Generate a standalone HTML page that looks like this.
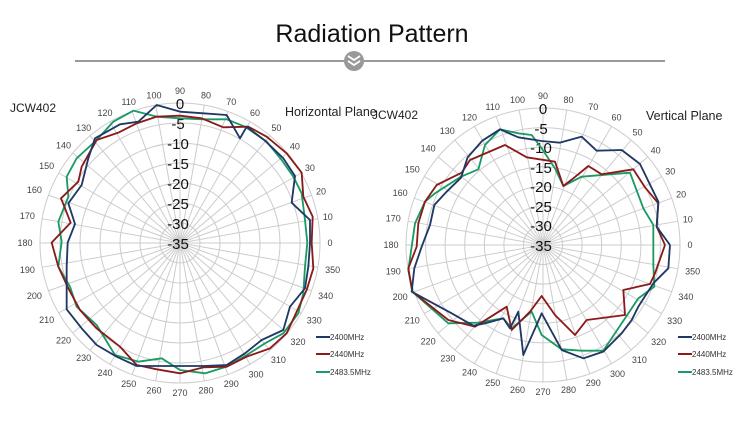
<!DOCTYPE html>
<html><head><meta charset="utf-8"><style>
html,body{margin:0;padding:0;background:#fff;}
svg{display:block;font-family:"Liberation Sans",sans-serif;}
</style></head><body>
<svg width="750" height="436" viewBox="0 0 750 436" xmlns="http://www.w3.org/2000/svg">
<rect width="750" height="436" fill="#fff"/>
<text x="372" y="42" font-size="25" text-anchor="middle" fill="#111">Radiation Pattern</text>
<line x1="75" y1="61" x2="665" y2="61" stroke="#999" stroke-width="2"/>
<circle cx="354" cy="61" r="10" fill="#999"/>
<path d="M348 56 l6 4 l6 -4 M348 61 l6 4 l6 -4" stroke="#fff" stroke-width="1.8" fill="none"/>

<!-- LEFT -->
<g transform="translate(180,243)">
<g fill="none" stroke="#ccc" stroke-width="1">
<circle r="140"/><circle r="120"/><circle r="100"/><circle r="80"/><circle r="60"/><circle r="40"/><circle r="20"/>
<g id="sp"><line x1="-140" y1="0" x2="140" y2="0"/>
<line x1="-140" y1="0" x2="140" y2="0" transform="rotate(10)"/><line x1="-140" y1="0" x2="140" y2="0" transform="rotate(20)"/><line x1="-140" y1="0" x2="140" y2="0" transform="rotate(30)"/><line x1="-140" y1="0" x2="140" y2="0" transform="rotate(40)"/><line x1="-140" y1="0" x2="140" y2="0" transform="rotate(50)"/><line x1="-140" y1="0" x2="140" y2="0" transform="rotate(60)"/><line x1="-140" y1="0" x2="140" y2="0" transform="rotate(70)"/><line x1="-140" y1="0" x2="140" y2="0" transform="rotate(80)"/><line x1="-140" y1="0" x2="140" y2="0" transform="rotate(90)"/><line x1="-140" y1="0" x2="140" y2="0" transform="rotate(100)"/><line x1="-140" y1="0" x2="140" y2="0" transform="rotate(110)"/><line x1="-140" y1="0" x2="140" y2="0" transform="rotate(120)"/><line x1="-140" y1="0" x2="140" y2="0" transform="rotate(130)"/><line x1="-140" y1="0" x2="140" y2="0" transform="rotate(140)"/><line x1="-140" y1="0" x2="140" y2="0" transform="rotate(150)"/><line x1="-140" y1="0" x2="140" y2="0" transform="rotate(160)"/><line x1="-140" y1="0" x2="140" y2="0" transform="rotate(170)"/></g>
</g>
<g font-size="9" fill="#444" text-anchor="middle">
<g transform="rotate(0)"><text transform="translate(150,3)">0</text></g>
<g transform="rotate(-10)"><text transform="translate(150,0) rotate(10) translate(0,3)">10</text></g>
<g transform="rotate(-20)"><text transform="translate(150,0) rotate(20) translate(0,3)">20</text></g>
<g transform="rotate(-30)"><text transform="translate(150,0) rotate(30) translate(0,3)">30</text></g>
<g transform="rotate(-40)"><text transform="translate(150,0) rotate(40) translate(0,3)">40</text></g>
<g transform="rotate(-50)"><text transform="translate(150,0) rotate(50) translate(0,3)">50</text></g>
<g transform="rotate(-60)"><text transform="translate(150,0) rotate(60) translate(0,3)">60</text></g>
<g transform="rotate(-70)"><text transform="translate(150,0) rotate(70) translate(0,3)">70</text></g>
<g transform="rotate(-80)"><text transform="translate(150,0) rotate(80) translate(0,3)">80</text></g>
<g transform="rotate(-90)"><text transform="translate(152,0) rotate(90) translate(0,3)">90</text></g>
<g transform="rotate(-100)"><text transform="translate(150,0) rotate(100) translate(0,3)">100</text></g>
<g transform="rotate(-110)"><text transform="translate(150,0) rotate(110) translate(0,3)">110</text></g>
<g transform="rotate(-120)"><text transform="translate(150,0) rotate(120) translate(0,3)">120</text></g>
<g transform="rotate(-130)"><text transform="translate(150,0) rotate(130) translate(0,3)">130</text></g>
<g transform="rotate(-140)"><text transform="translate(152,0) rotate(140) translate(0,3)">140</text></g>
<g transform="rotate(-150)"><text transform="translate(154,0) rotate(150) translate(0,3)">150</text></g>
<g transform="rotate(-160)"><text transform="translate(155,0) rotate(160) translate(0,3)">160</text></g>
<g transform="rotate(-170)"><text transform="translate(155,0) rotate(170) translate(0,3)">170</text></g>
<g transform="rotate(-180)"><text transform="translate(155,0) rotate(180) translate(0,3)">180</text></g>
<g transform="rotate(-190)"><text transform="translate(155,0) rotate(190) translate(0,3)">190</text></g>
<g transform="rotate(-200)"><text transform="translate(155,0) rotate(200) translate(0,3)">200</text></g>
<g transform="rotate(-210)"><text transform="translate(154,0) rotate(210) translate(0,3)">210</text></g>
<g transform="rotate(-220)"><text transform="translate(152,0) rotate(220) translate(0,3)">220</text></g>
<g transform="rotate(-230)"><text transform="translate(150,0) rotate(230) translate(0,3)">230</text></g>
<g transform="rotate(-240)"><text transform="translate(150,0) rotate(240) translate(0,3)">240</text></g>
<g transform="rotate(-250)"><text transform="translate(150,0) rotate(250) translate(0,3)">250</text></g>
<g transform="rotate(-260)"><text transform="translate(150,0) rotate(260) translate(0,3)">260</text></g>
<g transform="rotate(-270)"><text transform="translate(150,0) rotate(270) translate(0,3)">270</text></g>
<g transform="rotate(-280)"><text transform="translate(150,0) rotate(280) translate(0,3)">280</text></g>
<g transform="rotate(-290)"><text transform="translate(150,0) rotate(290) translate(0,3)">290</text></g>
<g transform="rotate(-300)"><text transform="translate(152,0) rotate(300) translate(0,3)">300</text></g>
<g transform="rotate(-310)"><text transform="translate(153,0) rotate(310) translate(0,3)">310</text></g>
<g transform="rotate(-320)"><text transform="translate(154,0) rotate(320) translate(0,3)">320</text></g>
<g transform="rotate(-330)"><text transform="translate(155,0) rotate(330) translate(0,3)">330</text></g>
<g transform="rotate(-340)"><text transform="translate(155,0) rotate(340) translate(0,3)">340</text></g>
<g transform="rotate(-350)"><text transform="translate(155,0) rotate(350) translate(0,3)">350</text></g>
</g>
<g font-size="15" fill="#111" text-anchor="middle">
<text x="0" y="-134">0</text><text x="-2" y="-114">-5</text><text x="-2" y="-94">-10</text><text x="-2" y="-74">-15</text><text x="-2" y="-54">-20</text><text x="-2" y="-34">-25</text><text x="-2" y="-14">-30</text><text x="-2" y="6">-35</text>
</g>
</g>
<g transform="translate(0,80) scale(0.33333)" fill="none" stroke-width="5.5" stroke-linejoin="round">
<polyline stroke="#1a9a64" points="922,488 915,420 905,340 880,290 845,240 800,185 735,140 680,118 610,118 540,115 470,110 400,92 340,125 290,180 230,235 200,290 205,350 175,425 185,485 175,560 210,620 230,680 290,735 345,825 415,845 485,835 540,870 615,880 680,860 740,825 795,790 850,760 895,700 910,640 915,560 922,488"/>
<polyline stroke="#8b1a1a" points="935,488 938,410 910,350 905,278 860,220 800,170 745,140 670,142 605,115 540,107 470,110 410,130 355,158 290,180 245,260 235,305 183,355 212,428 155,488 175,560 205,625 240,690 290,745 360,800 410,855 470,868 540,880 610,862 680,860 740,830 810,805 860,760 920,630 940,565 935,488"/>
<polyline stroke="#1f3864" points="930,490 930,420 875,368 885,288 850,235 795,182 740,140 720,175 680,105 610,100 540,95 470,75 415,125 360,133 285,175 265,235 245,315 205,370 225,432 203,488 200,560 200,620 200,688 245,745 290,795 350,830 410,858 475,858 540,858 610,858 680,855 735,820 785,780 850,750 870,680 915,625 925,560 930,490"/>
</g>
<text x="10" y="112" font-size="12" fill="#222">JCW402</text>
<text x="285" y="116" font-size="12.5" fill="#222">Horizontal Plane</text>
<g font-size="8" fill="#333">
<line x1="316" y1="337" x2="330" y2="337" stroke="#1f3864" stroke-width="2"/><text x="330" y="340">2400MHz</text>
<line x1="316" y1="354" x2="330" y2="354" stroke="#8b1a1a" stroke-width="2"/><text x="330" y="357">2440MHz</text>
<line x1="316" y1="372" x2="330" y2="372" stroke="#1a9a64" stroke-width="2"/><text x="330" y="375">2483.5MHz</text>
</g>

<!-- RIGHT -->
<g transform="translate(543,245)">
<g fill="none" stroke="#ccc" stroke-width="1">
<circle r="137"/><circle r="117.4"/><circle r="97.9"/><circle r="78.3"/><circle r="58.7"/><circle r="39.1"/><circle r="19.6"/>
<use href="#sp" transform="scale(0.98)"/>
</g>
<g font-size="9" fill="#444" text-anchor="middle">
<g transform="rotate(0)"><text transform="translate(147,3)">0</text></g>
<g transform="rotate(-10)"><text transform="translate(147,0) rotate(10) translate(0,3)">10</text></g>
<g transform="rotate(-20)"><text transform="translate(147,0) rotate(20) translate(0,3)">20</text></g>
<g transform="rotate(-30)"><text transform="translate(147,0) rotate(30) translate(0,3)">30</text></g>
<g transform="rotate(-40)"><text transform="translate(147,0) rotate(40) translate(0,3)">40</text></g>
<g transform="rotate(-50)"><text transform="translate(147,0) rotate(50) translate(0,3)">50</text></g>
<g transform="rotate(-60)"><text transform="translate(147,0) rotate(60) translate(0,3)">60</text></g>
<g transform="rotate(-70)"><text transform="translate(147,0) rotate(70) translate(0,3)">70</text></g>
<g transform="rotate(-80)"><text transform="translate(147,0) rotate(80) translate(0,3)">80</text></g>
<g transform="rotate(-90)"><text transform="translate(149,0) rotate(90) translate(0,3)">90</text></g>
<g transform="rotate(-100)"><text transform="translate(147,0) rotate(100) translate(0,3)">100</text></g>
<g transform="rotate(-110)"><text transform="translate(147,0) rotate(110) translate(0,3)">110</text></g>
<g transform="rotate(-120)"><text transform="translate(147,0) rotate(120) translate(0,3)">120</text></g>
<g transform="rotate(-130)"><text transform="translate(149,0) rotate(130) translate(0,3)">130</text></g>
<g transform="rotate(-140)"><text transform="translate(150,0) rotate(140) translate(0,3)">140</text></g>
<g transform="rotate(-150)"><text transform="translate(151,0) rotate(150) translate(0,3)">150</text></g>
<g transform="rotate(-160)"><text transform="translate(152,0) rotate(160) translate(0,3)">160</text></g>
<g transform="rotate(-170)"><text transform="translate(152,0) rotate(170) translate(0,3)">170</text></g>
<g transform="rotate(-180)"><text transform="translate(152,0) rotate(180) translate(0,3)">180</text></g>
<g transform="rotate(-190)"><text transform="translate(152,0) rotate(190) translate(0,3)">190</text></g>
<g transform="rotate(-200)"><text transform="translate(152,0) rotate(200) translate(0,3)">200</text></g>
<g transform="rotate(-210)"><text transform="translate(151,0) rotate(210) translate(0,3)">210</text></g>
<g transform="rotate(-220)"><text transform="translate(150,0) rotate(220) translate(0,3)">220</text></g>
<g transform="rotate(-230)"><text transform="translate(148,0) rotate(230) translate(0,3)">230</text></g>
<g transform="rotate(-240)"><text transform="translate(147,0) rotate(240) translate(0,3)">240</text></g>
<g transform="rotate(-250)"><text transform="translate(147,0) rotate(250) translate(0,3)">250</text></g>
<g transform="rotate(-260)"><text transform="translate(147,0) rotate(260) translate(0,3)">260</text></g>
<g transform="rotate(-270)"><text transform="translate(147,0) rotate(270) translate(0,3)">270</text></g>
<g transform="rotate(-280)"><text transform="translate(147,0) rotate(280) translate(0,3)">280</text></g>
<g transform="rotate(-290)"><text transform="translate(147,0) rotate(290) translate(0,3)">290</text></g>
<g transform="rotate(-300)"><text transform="translate(149,0) rotate(300) translate(0,3)">300</text></g>
<g transform="rotate(-310)"><text transform="translate(150,0) rotate(310) translate(0,3)">310</text></g>
<g transform="rotate(-320)"><text transform="translate(151,0) rotate(320) translate(0,3)">320</text></g>
<g transform="rotate(-330)"><text transform="translate(152,0) rotate(330) translate(0,3)">330</text></g>
<g transform="rotate(-340)"><text transform="translate(152,0) rotate(340) translate(0,3)">340</text></g>
<g transform="rotate(-350)"><text transform="translate(152,0) rotate(350) translate(0,3)">350</text></g>
</g>
<g font-size="15" fill="#111" text-anchor="middle">
<text x="0" y="-131">0</text><text x="-2" y="-111">-5</text><text x="-2" y="-92">-10</text><text x="-2" y="-72">-15</text><text x="-2" y="-53">-20</text><text x="-2" y="-33">-25</text><text x="-2" y="-14">-30</text><text x="-2" y="6">-35</text>
</g>
</g>
<g transform="translate(375,80) scale(0.33333)" fill="none" stroke-width="5.5" stroke-linejoin="round">
<polyline stroke="#1a9a64" points="835,495 835,435 805,385 765,278 620,290 565,318 540,265 500,205 470,165 430,160 375,148 330,195 310,268 258,290 180,340 150,365 120,430 100,570 112,635 220,730 310,728 385,715 410,745 470,695 500,765 560,808 620,812 685,812 760,700 790,655 838,620 835,555 835,495"/>
<polyline stroke="#8b1a1a" points="870,495 845,440 850,370 810,322 775,268 680,283 640,258 595,295 565,318 540,245 455,232 390,195 285,240 260,278 185,315 150,365 130,430 125,500 100,565 112,635 220,720 300,740 395,680 410,750 465,695 500,648 540,705 600,765 635,720 750,705 745,630 825,612 840,580 870,495"/>
<polyline stroke="#1f3864" points="885,495 880,565 835,610 790,680 770,720 740,760 685,815 625,835 560,810 500,700 445,825 430,695 405,745 385,715 330,730 295,737 230,700 110,635 118,565 140,500 165,435 178,375 215,335 258,293 278,232 322,182 375,148 430,172 500,183 555,188 620,170 665,212 740,210 795,252 850,365 845,440 885,495"/>
</g>
<text x="372" y="119" font-size="12" fill="#222">JCW402</text>
<text x="646" y="120" font-size="12.5" fill="#222">Vertical Plane</text>
<g font-size="8" fill="#333">
<line x1="678" y1="337" x2="692" y2="337" stroke="#1f3864" stroke-width="2"/><text x="692" y="340">2400MHz</text>
<line x1="678" y1="354" x2="692" y2="354" stroke="#8b1a1a" stroke-width="2"/><text x="692" y="357">2440MHz</text>
<line x1="678" y1="372" x2="692" y2="372" stroke="#1a9a64" stroke-width="2"/><text x="692" y="375">2483.5MHz</text>
</g>
</svg>
</body></html>
